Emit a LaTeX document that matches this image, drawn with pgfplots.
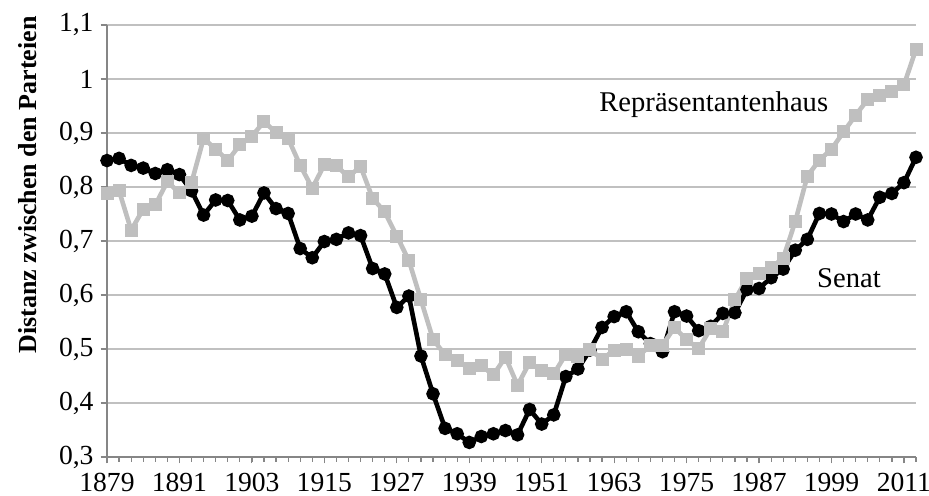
\documentclass[border=0pt]{standalone}
\usepackage{fontspec}
\setmainfont{Liberation Serif}
\usepackage{pgfplots}
\usepackage{pgfplotstable}
\pgfplotsset{compat=1.18}
\definecolor{housegray}{RGB}{191,191,191}
\definecolor{gridgray}{RGB}{192,192,192}
\definecolor{axisgray}{RGB}{134,134,134}
\pgfplotstableread{
year senat house
1879 0.849 0.788
1881 0.853 0.793
1883 0.840 0.720
1885 0.835 0.759
1887 0.825 0.767
1889 0.832 0.810
1891 0.823 0.789
1893 0.793 0.808
1895 0.748 0.890
1897 0.776 0.870
1899 0.775 0.849
1901 0.739 0.878
1903 0.746 0.894
1905 0.789 0.921
1907 0.760 0.901
1909 0.751 0.890
1911 0.686 0.840
1913 0.669 0.798
1915 0.699 0.841
1917 0.703 0.839
1919 0.715 0.819
1921 0.710 0.838
1923 0.649 0.779
1925 0.639 0.754
1927 0.577 0.709
1929 0.598 0.664
1931 0.487 0.591
1933 0.417 0.518
1935 0.353 0.489
1937 0.343 0.478
1939 0.327 0.464
1941 0.338 0.469
1943 0.343 0.452
1945 0.349 0.485
1947 0.341 0.433
1949 0.388 0.475
1951 0.361 0.460
1953 0.378 0.454
1955 0.449 0.490
1957 0.463 0.486
1959 0.498 0.499
1961 0.540 0.481
1963 0.560 0.498
1965 0.569 0.499
1967 0.532 0.486
1969 0.510 0.507
1971 0.495 0.507
1973 0.569 0.540
1975 0.561 0.517
1977 0.534 0.501
1979 0.542 0.538
1981 0.566 0.532
1983 0.567 0.591
1985 0.610 0.631
1987 0.612 0.640
1989 0.632 0.651
1991 0.648 0.668
1993 0.683 0.736
1995 0.703 0.820
1997 0.751 0.850
1999 0.750 0.870
2001 0.736 0.902
2003 0.750 0.933
2005 0.739 0.962
2007 0.781 0.969
2009 0.788 0.976
2011 0.808 0.989
2013 0.855 1.055
}\datatable
\begin{document}
\begin{tikzpicture}
\useasboundingbox (-53.5pt,-19.5pt) rectangle (411pt,228.5pt);
\begin{axis}[
  at={(0,0)}, anchor=south west,
  scale only axis, width=404.5pt, height=216pt,
  xmin=1879, xmax=2013, ymin=0.3, ymax=1.1,
  axis x line=bottom, axis y line=left,
  axis line style={-, axisgray, line width=0.8pt},
  xtick={1879,1891,...,2011},
  minor xtick={1879,1881,...,2013},
  xticklabel style={/pgf/number format/1000 sep={}, text depth=0pt, yshift=-1.5pt},
  ytick={0.3,0.4,...,1.1},
  yticklabel style={/pgf/number format/.cd, use comma, fixed, precision=1},
  /pgf/number format/assume math mode=true,
  tick label style={font=\fontsize{13.8}{15}\selectfont, black},
  tick style={axisgray, line width=0.6pt},
  tick align=outside,
  major tick length=3.2pt, minor tick length=2.5pt,
  ymajorgrids, grid style={gridgray, line width=0.8pt},
  xtick pos=bottom, ytick pos=left,
  ylabel={Distanz zwischen den Parteien},
  ylabel style={at={(axis description cs:-0.0977,0.63)}, anchor=center, font=\fontsize{13}{15}\selectfont\bfseries},
  clip=false,
]
\addplot[black, line width=2.3pt, mark=*, mark size=2.2pt] table[x=year, y=senat] {\datatable};
\addplot[housegray, line width=2.3pt, mark=square*, mark size=2.1pt] table[x=year, y=house] {\datatable};
\node[font=\fontsize{14.3}{16}\selectfont] at (axis cs:1979.5,0.952) {Repräsentantenhaus};
\node[font=\fontsize{14.3}{16}\selectfont] at (axis cs:2001.9,0.631) {Senat};
\end{axis}
\end{tikzpicture}
\end{document}
